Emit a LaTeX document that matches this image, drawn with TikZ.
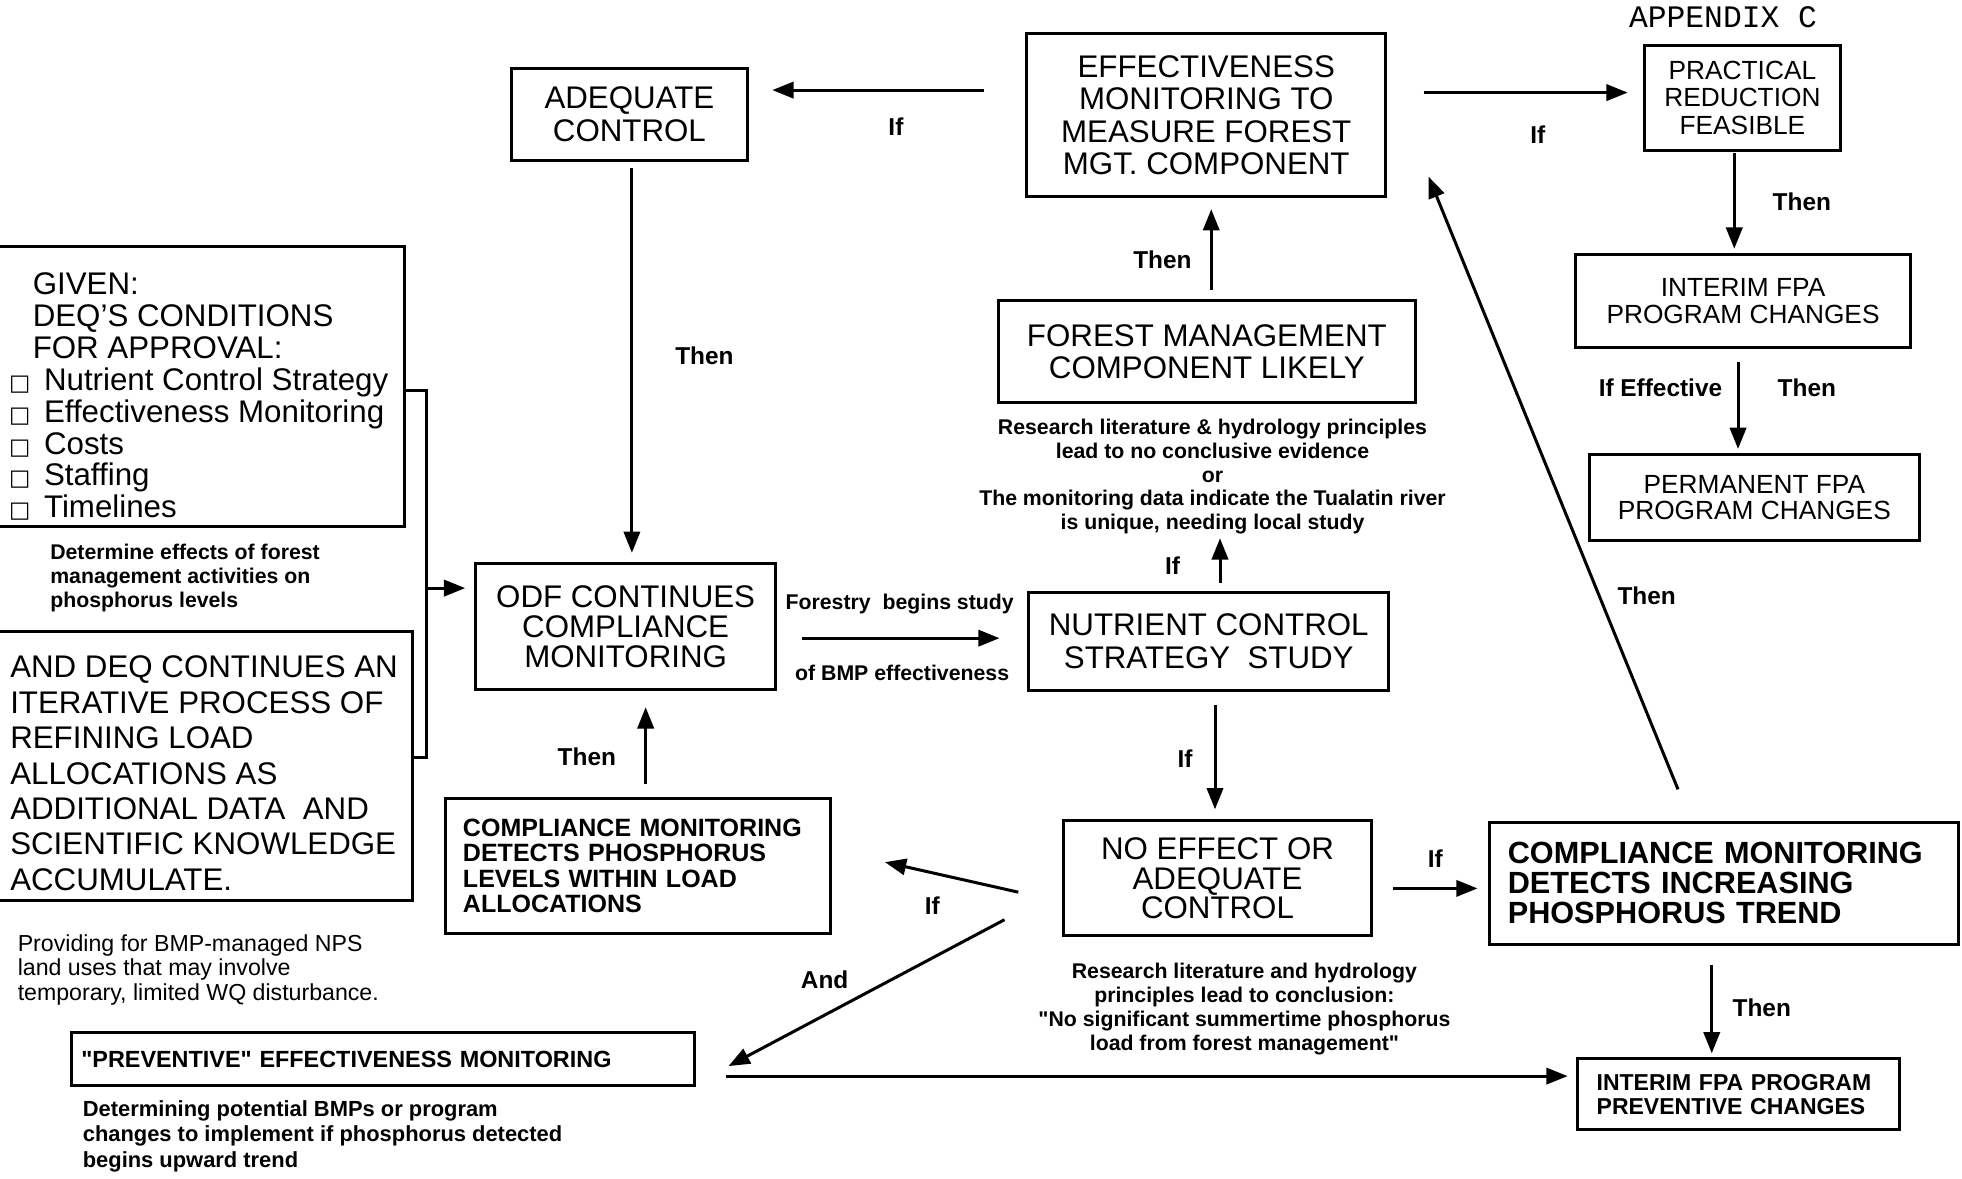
\documentclass[tikz,border=0pt]{standalone}
\usepackage{fontspec}
\setmainfont{Liberation Sans}
\newfontfamily\appxfont{Liberation Mono}
\newfontfamily\boxglyphfont{DejaVu Sans}
\usetikzlibrary{arrows.meta}

\newcommand{\chk}{\makebox[28pt][l]{\boxglyphfont\fontsize{18}{18}\selectfont □}}

\begin{document}
\begin{tikzpicture}[x=1pt,y=-1pt,
    arr/.style={line width=2.4pt,-{Triangle[length=17pt,width=13pt]}}]

  \useasboundingbox (0,0) rectangle (1568,942);

  \node[inner sep=0pt,font=\appxfont\fontsize{25}{25}\selectfont] (appx) at (1377,14) {APPENDIX C};

  % boxes, centred text
  \begin{scope}[every node/.style={draw,line width=2.4pt,align=center,inner sep=0pt,font=\fontsize{25}{26}\selectfont}]
    \node[minimum width=188pt,minimum height=73pt] (adeq) at (503,91.5) {ADEQUATE\\CONTROL};
    \node[minimum width=287pt,minimum height=130pt] (eff) at (964,92) {EFFECTIVENESS\\MONITORING TO\\MEASURE FOREST\\MGT. COMPONENT};
    \node[minimum width=333pt,minimum height=82pt] (forest) at (964.5,281) {FOREST MANAGEMENT\\COMPONENT LIKELY};
    \node[minimum width=288pt,minimum height=78pt] (nutrient) at (966,512.5) {NUTRIENT CONTROL\\STRATEGY\ \ STUDY};
    \node[minimum width=240pt,minimum height=101pt,font=\fontsize{25}{24}\selectfont] (odf) at (500,500.5) {ODF CONTINUES\\COMPLIANCE\\MONITORING};
    \node[minimum width=246pt,minimum height=92pt,font=\fontsize{25}{23.5}\selectfont] (noeffect) at (973,702) {NO EFFECT OR\\ADEQUATE\\CONTROL};
    \node[minimum width=157pt,minimum height=84pt,font=\fontsize{21}{22}\selectfont] (practical) at (1392.5,78) {PRACTICAL\\REDUCTION\\FEASIBLE};
    \node[minimum width=268pt,minimum height=75pt,font=\fontsize{21}{22}\selectfont] (interim) at (1393,240.5) {INTERIM FPA\\PROGRAM CHANGES};
    \node[minimum width=264pt,minimum height=69pt,font=\fontsize{21}{21}\selectfont] (permanent) at (1402,397.5) {PERMANENT FPA\\PROGRAM CHANGES};
  \end{scope}

  % boxes, left text
  \begin{scope}[every node/.style={draw,line width=2.4pt,align=left,inner ysep=0pt}]
    \node[text width=280pt,inner xsep=14pt,minimum height=108pt,font=\bfseries\fontsize{20}{20.3}\selectfont] (cmwithin) at (510,692) {COMPLIANCE MONITORING\\DETECTS PHOSPHORUS\\LEVELS WITHIN LOAD\\ALLOCATIONS};
    \node[text width=345pt,inner xsep=15pt,minimum height=98pt,font=\bfseries\fontsize{24.5}{24}\selectfont] (cmincr) at (1377.5,706) {COMPLIANCE MONITORING\\DETECTS INCREASING\\PHOSPHORUS TREND};
    \node[text width=227pt,inner xsep=15pt,minimum height=57pt,font=\bfseries\fontsize{18.4}{19}\selectfont] (interimprev) at (1389.5,874.5) {INTERIM FPA PROGRAM\\PREVENTIVE CHANGES};
    \node[text width=482pt,inner xsep=8pt,minimum height=42pt,font=\bfseries\fontsize{18.7}{19}\selectfont] (prevmon) at (306,846.5) {\textquotedbl PREVENTIVE\textquotedbl{} EFFECTIVENESS MONITORING};
  \end{scope}

  % open frames on the left
  \draw[line width=2.4pt] (0,197) -| (323,421) -- (0,421);
  \draw[line width=2.4pt] (0,505) -| (330,720) -- (0,720);
  \node[align=left,anchor=west,inner sep=0pt,font=\fontsize{25}{25.5}\selectfont] (given) at (7,317)
    {\hspace*{19pt}GIVEN:\\\hspace*{19pt}DEQ'S CONDITIONS\\\hspace*{19pt}FOR APPROVAL:\\
     \chk Nutrient Control Strategy\\\chk Effectiveness Monitoring\\\chk Costs\\\chk Staffing\\\chk Timelines};
  \node[align=left,anchor=west,inner sep=0pt,font=\fontsize{25}{28.3}\selectfont] (anddeq) at (8,618)
    {AND DEQ CONTINUES AN\\ITERATIVE PROCESS OF\\REFINING LOAD\\ALLOCATIONS AS\\ADDITIONAL DATA\ \ AND\\SCIENTIFIC KNOWLEDGE\\ACCUMULATE.};

  % notes
  \begin{scope}[every node/.style={inner sep=0pt,font=\bfseries\fontsize{17}{19}\selectfont}]
    \node[align=center] (rtext1) at (969,381) {Research literature \& hydrology principles\\lead to no conclusive evidence\\or\\The monitoring data indicate the Tualatin river\\is unique, needing local study};
    \node[align=center] (rtext2) at (994.5,806.5) {Research literature and hydrology\\principles lead to conclusion:\\\textquotedbl No significant summertime phosphorus\\load from forest management\textquotedbl};
    \node[align=left,anchor=west] (determine) at (40,462) {Determine effects of forest\\management activities on\\phosphorus levels};
    \node[align=left,anchor=west,font=\fontsize{18.5}{19.5}\selectfont] (providing) at (14,775) {Providing for BMP-managed NPS\\land uses that may involve\\temporary, limited WQ disturbance.};
    \node[align=left,anchor=west,font=\bfseries\fontsize{17.5}{20.5}\selectfont] (determining) at (66,908) {Determining potential BMPs or program\\changes to implement if phosphorus detected\\begins upward trend};
    \node (forestry) at (719,483) {Forestry\ \ begins study};
    \node (ofbmp) at (721,538) {of BMP effectiveness};
  \end{scope}

  % labels
  \begin{scope}[every node/.style={inner sep=0pt,font=\bfseries\fontsize{19.5}{20}\selectfont}]
    \node (ifadeq) at (716,101) {If};
    \node (ifpract) at (1229,108) {If};
    \node (thenodf) at (563,284) {Then};
    \node (theneff) at (929,208) {Then};
    \node (ifstudy) at (937,452) {If};
    \node (ifnoeff) at (947,606) {If};
    \node (thenback) at (469,605) {Then};
    \node (ifwithin) at (745,724) {If};
    \node (andprev) at (659,783) {And};
    \node (ifincr) at (1147,686) {If};
    \node (thenup) at (1316,476) {Then};
    \node (thenprev) at (1408,805) {Then};
    \node (thenint) at (1440,161) {Then};
    \node (ifeff) at (1327,310) {If Effective};
    \node (thenperm) at (1444,310) {Then};
  \end{scope}

  % arrows
  \draw[arr,shorten <=33pt,shorten >=19pt] (eff.west |- 0,72) -- (adeq.east |- 0,72);
  \draw[arr,shorten <=29pt,shorten >=12pt] (eff.east |- 0,74) -- (practical.west |- 0,74);
  \draw[arr,shorten <=5pt,shorten >=7pt] (adeq.south -| 505,0) -- (odf.north -| 505,0);
  \draw[arr,shorten <=10pt,shorten >=13pt] (cmwithin.north -| 516,0) -- (odf.south -| 516,0);
  \draw[arr,shorten <=20pt,shorten >=22pt] (odf.east |- 0,510) -- (nutrient.west |- 0,510);
  \draw[arr,shorten <=6pt,shorten >=3pt] (nutrient.north -| 975,0) -- (rtext1.south -| 975,0);
  \draw[arr,shorten <=7pt,shorten >=9pt] (forest.north -| 968,0) -- (eff.south -| 968,0);
  \draw[arr,shorten <=11pt,shorten >=8pt] (nutrient.south -| 971,0) -- (noeffect.north -| 971,0);
  \draw[arr,shorten <=16pt,shorten >=8pt] (noeffect.east |- 0,710) -- (cmincr.west |- 0,710);
  \draw[arr] ([xshift=-35pt,yshift=-11pt]noeffect.west) -- ([xshift=42pt,yshift=3pt]cmwithin.east);
  \draw[arr] ([xshift=-46pt,yshift=-33pt]noeffect.west) -- ([xshift=26pt,yshift=-5.5pt]prevmon.east);
  \draw[arr,shorten <=24pt,shorten >=7pt] (prevmon.east |- 0,860) -- (interimprev.west |- 0,860);
  \draw[arr,shorten <=15pt,shorten >=3pt] (cmincr.south -| 1368,0) -- (interimprev.north -| 1368,0);
  \draw[arr] ([xshift=-36.5pt,yshift=25pt]cmincr.north) -- ([xshift=33pt,yshift=17pt]eff.south east);
  \draw[arr,shorten <=1pt,shorten >=3pt] (practical.south -| 1386,0) -- (interim.north -| 1386,0);
  \draw[arr,shorten <=10pt,shorten >=3pt] (interim.south -| 1389,0) -- (permanent.north -| 1389,0);

  % bracket from the two frames
  \coordinate (givenR) at (323,312);
  \coordinate (deqR) at (330,605);
  \coordinate (brk) at (341,470);
  \draw[line width=2.4pt] (givenR) -| (brk) |- (deqR);
  \draw[arr,shorten >=7pt] (brk) -- (brk -| odf.west);

\end{tikzpicture}
\end{document}
